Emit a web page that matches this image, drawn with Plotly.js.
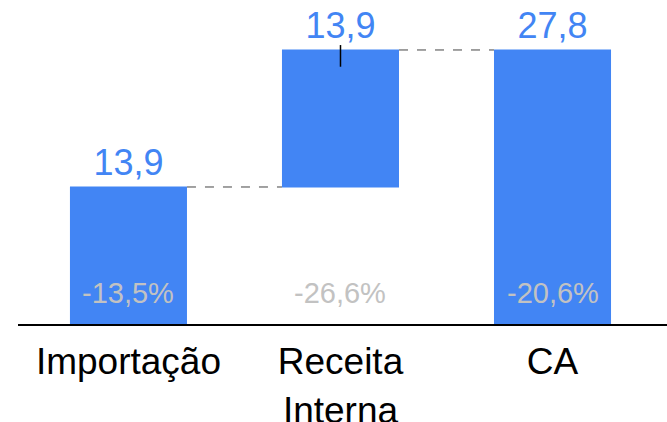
<!DOCTYPE html>
<html>
<head>
<meta charset="utf-8">
<script src="https://cdn.plot.ly/plotly-3.0.1.min.js"></script>
<style>html,body{margin:0;padding:0;background:#fff;}#chart{width:667px;height:422px;}</style>
</head>
<body>
<div id="chart"></div>
<script>
const categories = ['Importação', 'Receita<br>Interna', 'CA'];
const measures = ['relative', 'relative', 'total'];
const values = [13.9, 13.9, 0];
const valueLabels = ['13,9', '13,9', '27,8'];
const pctLabels = ['-13,5%', '-26,6%', '-20,6%'];

const FONT = '"Liberation Sans", Arial, sans-serif';
const BLUE = '#4285F4';

const total = values.reduce((a, b) => a + b, 0);

const trace = {
  type: 'waterfall',
  x: categories,
  y: values,
  measure: measures,
  text: valueLabels,
  textinfo: 'text',
  textposition: 'outside',
  outsidetextfont: {family: FONT, size: 36, color: BLUE},
  cliponaxis: false,
  width: 0.552,
  increasing: {marker: {color: BLUE}},
  decreasing: {marker: {color: BLUE}},
  totals: {marker: {color: BLUE}},
  connector: {mode: 'between', line: {color: '#444444', width: 1, dash: 'dash'}},
  hoverinfo: 'skip'
};

const annotations = categories.map((c, i) => ({
  x: c, y: 0, xref: 'x', yref: 'y',
  yanchor: 'bottom', yshift: 13,
  text: pctLabels[i], showarrow: false,
  font: {family: FONT, size: 29, color: '#c2c2c2'}
}));

const layout = {
  width: 667, height: 422,
  margin: {l: 18, r: 0, t: 0, b: 98},
  paper_bgcolor: '#ffffff', plot_bgcolor: '#ffffff',
  showlegend: false,
  font: {family: FONT},
  xaxis: {
    type: 'category',
    range: [-0.521, 2.54],
    showgrid: false, zeroline: false,
    showline: true, linecolor: '#000000', linewidth: 2,
    ticks: '', ticklabelstandoff: 4,
    tickfont: {family: FONT, size: 37, color: '#000000'},
    fixedrange: true
  },
  yaxis: {
    range: [0, 32.87],
    showgrid: false, zeroline: false, showline: false,
    showticklabels: false, ticks: '',
    fixedrange: true
  },
  shapes: [{
    type: 'line', xref: 'x', yref: 'y',
    x0: 1, x1: 1, y0: total - 1.7, y1: total + 0.5,
    line: {color: '#000000', width: 1.5}
  }],
  annotations: annotations
};

Plotly.newPlot('chart', [trace], layout, {displayModeBar: false, staticPlot: true});
</script>
</body>
</html>
